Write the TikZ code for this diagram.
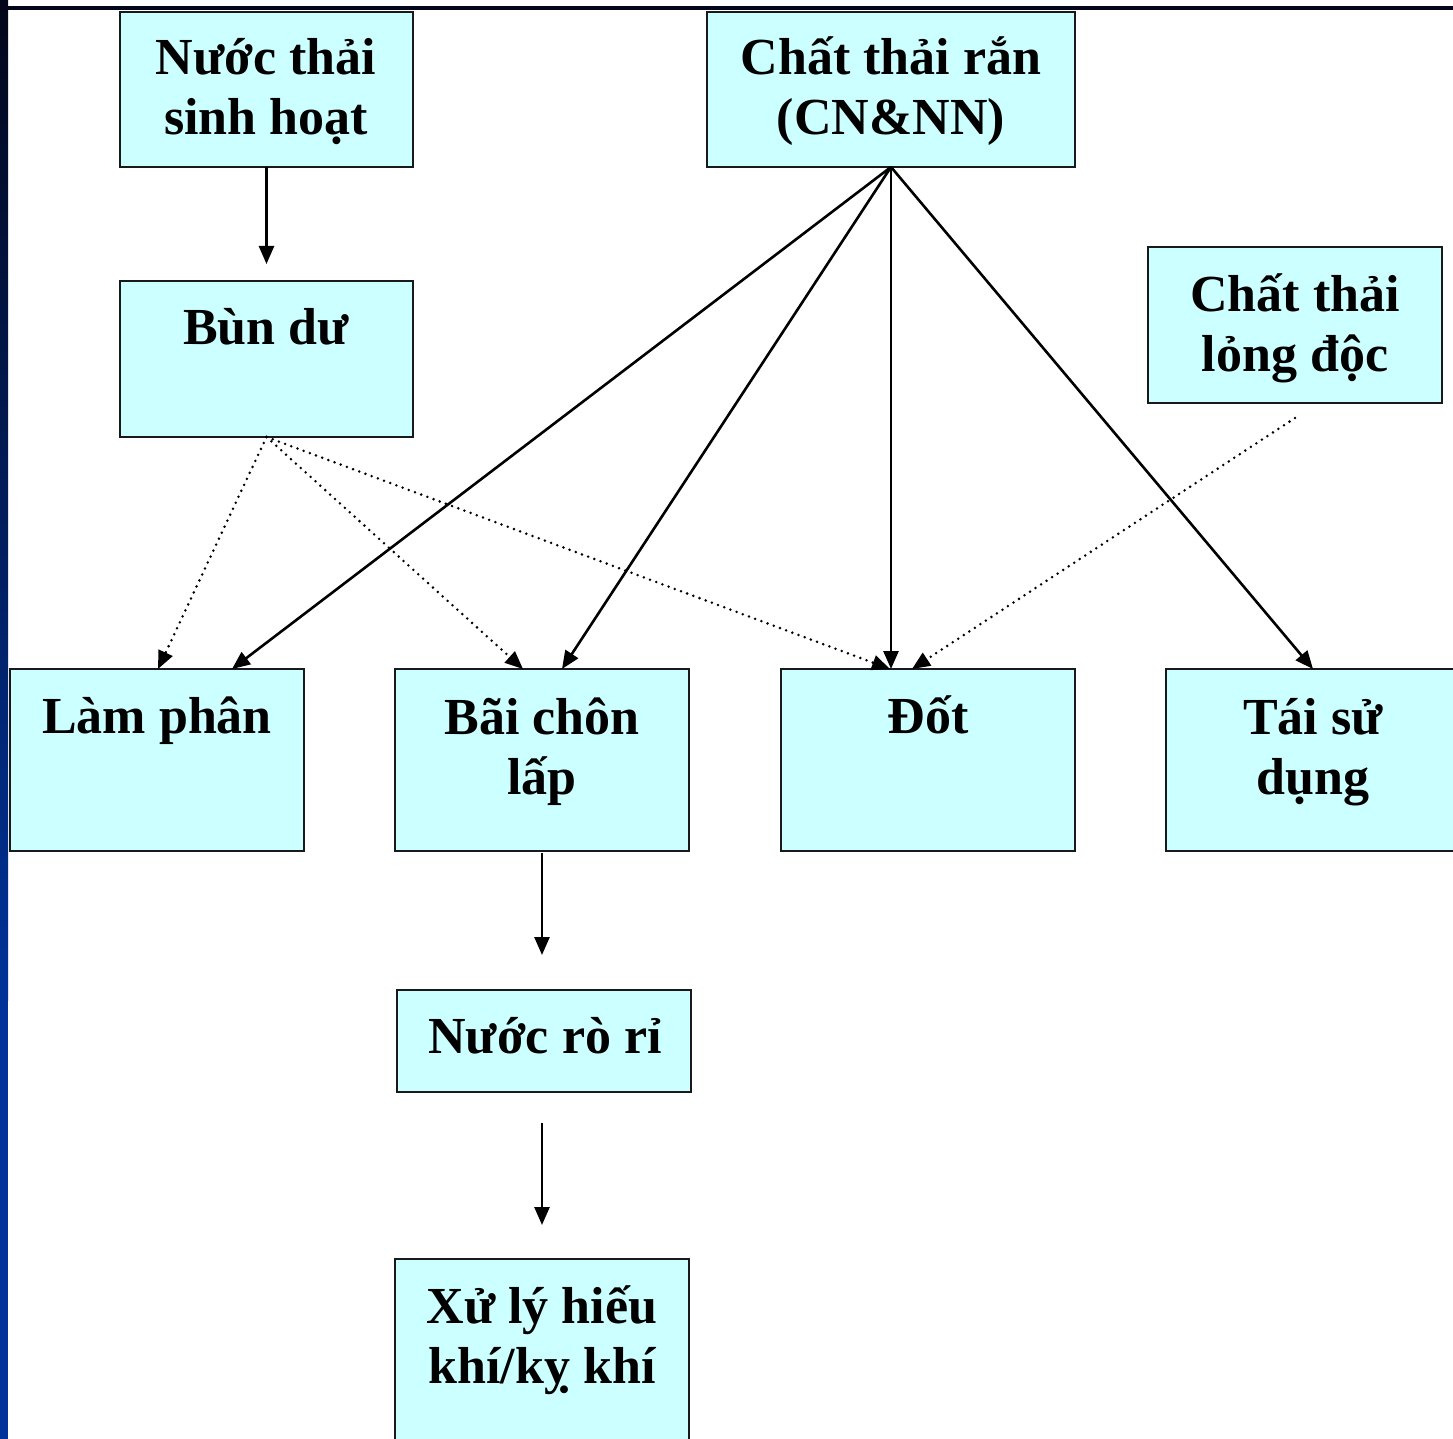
\documentclass[tikz,border=0pt]{standalone}
\usepackage{fontspec}
\setmainfont{Liberation Serif}
\usetikzlibrary{arrows.meta}
\definecolor{boxfill}{HTML}{CCFFFF}
\definecolor{navytop}{HTML}{03061A}
\definecolor{navybot}{HTML}{003399}
\begin{document}
\begin{tikzpicture}[x=0.5pt,y=-0.5pt,
  box/.style={draw=black!90, line width=1.1pt, fill=boxfill, rectangle, anchor=north west, inner sep=0pt, outer sep=0pt},
  lbl/.style={font=\fontsize{26}{30}\selectfont\bfseries, align=center, anchor=base, inner sep=0pt},
  arr/.style={line width=1.3pt, -{Triangle[length=9pt,width=7.5pt]}},
  dotarr/.style={line width=1.4pt, line cap=round, dash pattern=on 0pt off 3.3pt, -{Triangle[length=9pt,width=7.5pt]}}]
\useasboundingbox (0,0) rectangle (1453,1439);
\fill[white] (0,0) rectangle (1453,1439);
% frame bars
\fill[navytop] (0,6) rectangle (1453,10);
\shade[top color=navytop, bottom color=navybot] (0,0) rectangle (8,1000);
\fill[navybot] (0,999) rectangle (8,1439);
% boxes
\node[box, minimum width=146.5pt, minimum height=77.5pt] (nts) at (120,12) {};
\node[box, minimum width=184pt, minimum height=77.5pt] (ctr) at (707,12) {};
\node[box, minimum width=146.5pt, minimum height=78pt] (bun) at (120,281) {};
\node[box, minimum width=147pt, minimum height=78pt] (ld) at (1148,247) {};
\node[box, minimum width=147pt, minimum height=91pt] (lam) at (10,669) {};
\node[box, minimum width=147pt, minimum height=91pt] (bai) at (395,669) {};
\node[box, minimum width=147pt, minimum height=91pt] (dot) at (781,669) {};
\node[box, minimum width=150pt, minimum height=91pt] (tai) at (1166,669) {};
\node[box, minimum width=147pt, minimum height=51pt] (nrr) at (397,990) {};
\node[box, minimum width=147pt, minimum height=100pt] (xl) at (395,1259) {};
% labels (anchor = baseline of last line)
\node[lbl] (nts-t) at (266,135) {Nước thải\\sinh hoạt};
\node[lbl] (ctr-t) at (891,135) {Chất thải rắn\\(CN\&NN)};
\node[lbl] (bun-t) at (266,345) {Bùn dư};
\node[lbl] (ld-t) at (1295,372) {Chất thải\\lỏng độc};
\node[lbl] (lam-t) at (157,733) {Làm phân};
\node[lbl] (bai-t) at (542,794) {Bãi chôn\\lấp};
\node[lbl] (dot-t) at (928,733) {Đốt};
\node[lbl] (tai-t) at (1313,794) {Tái sử\\dụng};
\node[lbl] (nrr-t) at (545,1053) {Nước rò rỉ};
\node[lbl] (xl-t) at (542,1383) {Xử lý hiếu\\khí/kỵ khí};
% connectors
\draw[arr, shorten >=8.5pt] (nts.south) -- (bun.north);
\draw[arr] (ctr.south) -- ([xshift=111pt]lam.north west);
\draw[arr] (ctr.south) -- ([xshift=83.5pt]bai.north west);
\draw[arr] (ctr.south) -- ([xshift=55pt]dot.north west);
\draw[arr] (ctr.south) -- ([xshift=73.5pt]tai.north west);
\draw[dotarr] (bun.south) -- ([xshift=74pt]lam.north west);
\draw[dotarr] (bun.south) -- ([xshift=64pt]bai.north west);
\draw[dotarr] (bun.south) -- ([xshift=54.5pt]dot.north west);
\draw[dotarr] ([yshift=-7.5pt]ld.south) -- ([xshift=65.5pt]dot.north west);
\draw[arr, shorten <=1pt, shorten >=17.5pt] (bai.south) -- (bai.south |- nrr.north);
\draw[arr, shorten <=15.5pt, shorten >=17pt] (xl.north |- nrr.south) -- (xl.north);
\end{tikzpicture}
\end{document}
